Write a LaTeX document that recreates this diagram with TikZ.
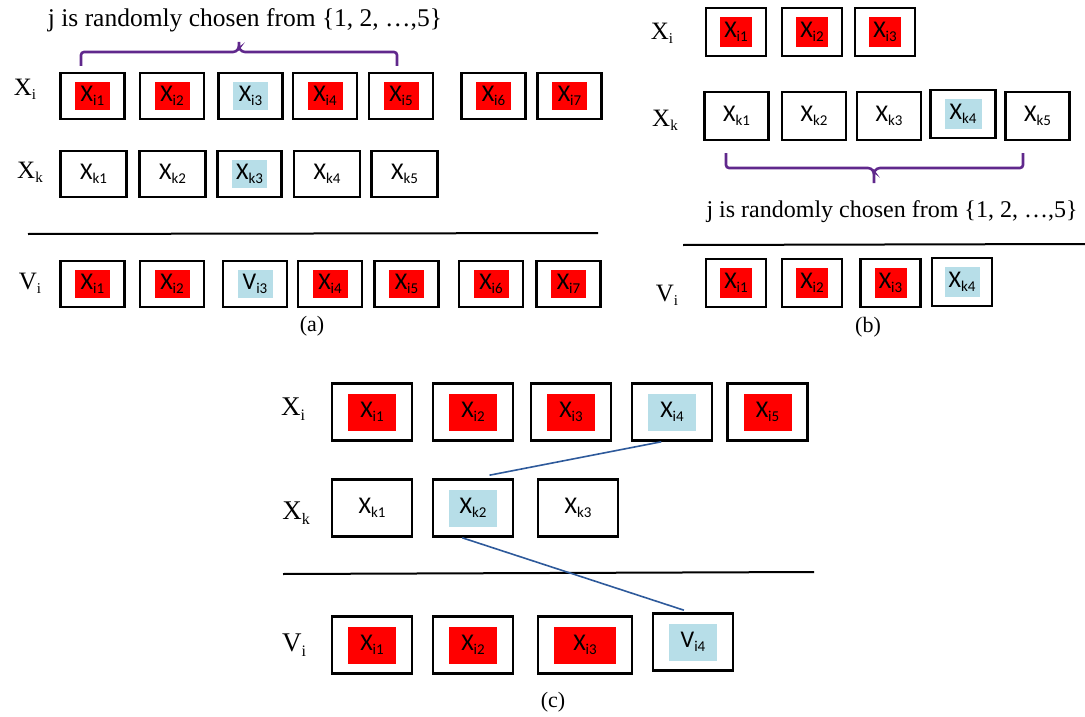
\documentclass[tikz,border=0pt]{standalone}
\usepackage{fontspec}
\setmainfont{Liberation Serif}
\newfontfamily\calfont{Carlito}
\usetikzlibrary{calc}
\definecolor{cred}{RGB}{255,0,0}
\definecolor{cblue}{RGB}{183,222,232}
\definecolor{cpurple}{RGB}{96,40,140}
\definecolor{cline}{RGB}{46,90,155}
\newcommand\sx[2]{{\calfont\fontsize{24}{26}\selectfont #1\raisebox{-0.3ex}{\fontsize{15}{15}\selectfont #2}}}
\newcommand\lab[2]{{\fontsize{25}{28}\selectfont #1\raisebox{-0.35ex}{\fontsize{15}{15}\selectfont #2}}}
\newcommand\labc[2]{{\fontsize{27}{30}\selectfont #1\raisebox{-0.35ex}{\fontsize{16}{16}\selectfont #2}}}
\tikzset{
  box/.style={draw, line width=2.6pt, inner sep=0pt},
  boxa/.style={box, minimum width=64pt, minimum height=46pt},
  boxb/.style={box, minimum width=60pt, minimum height=48pt},
  boxc/.style={box, minimum width=80pt, minimum height=57pt},
  ina/.style={inner sep=0pt, minimum width=35pt, minimum height=28pt},
  inb/.style={inner sep=0pt, minimum width=32pt, minimum height=30pt},
  inc/.style={inner sep=0pt, minimum width=48pt, minimum height=37pt},
  rowlab/.style={inner sep=0pt},
  subcap/.style={inner sep=0pt, font=\fontsize{22}{26}\selectfont},
  titletext/.style={inner sep=0pt, font=\fontsize{24}{28}\selectfont},
  bracepath/.style={draw=cpurple, line width=2.6pt, rounded corners=3pt},
  ruleline/.style={draw=black, line width=2pt},
  linkline/.style={draw=cline, line width=1.6pt}
}
\begin{document}
\begin{tikzpicture}[x=1pt, y=-1pt]
\useasboundingbox (0,0) rectangle (1085,717);

% ---------------- panel (a) ----------------
\node[titletext, font=\fontsize{25.5}{28}\selectfont] (ta) at (245,20) {j is randomly chosen from \{1, 2, …,5\}};
\draw[bracepath] (81,66) -- (81,52) -- (236,52) -- (239,48) -- (239,42);
\draw[bracepath] (239,48) -- (242,52) -- (397,52) -- (397,66);

\node[rowlab] (aXi) at (25,89) {\lab{X}{i}};
\node[rowlab] (aXk) at (30,172) {\lab{X}{k}};
\node[rowlab] (aVi) at (30,283) {\lab{V}{i}};

\foreach \n/\x/\c in {1/92.5/cred, 2/172/cred, 3/250.5/cblue, 4/325/cred, 5/401/cred, 6/493.5/cred, 7/569.5/cred}{
  \node[boxa] (axi\n) at (\x,96) {};
  \node[ina, fill=\c] (axin\n) at (axi\n) {\sx{X}{i\n}};
}
\foreach \n/\x in {1/93.5, 2/172.5, 4/327, 5/404.5}{
  \node[boxa, minimum width=66pt] (axk\n) at (\x,174) {\sx{X}{k\n}};
}
\node[boxa] (axk3) at (249.5,174) {};
\node[ina, fill=cblue] (axkn3) at (axk3) {\sx{X}{k3}};

\coordinate (ala) at (28,234);
\coordinate (alb) at (598,233);
\draw[ruleline] (ala) -- (alb);

\foreach \n/\x in {1/92.5, 2/172, 4/330, 5/406.5, 6/491, 7/568.5}{
  \node[boxa] (avi\n) at (\x,284) {};
  \node[ina, fill=cred] (avin\n) at (avi\n) {\sx{X}{i\n}};
}
\node[boxa] (avi3) at (255,284) {};
\node[ina, fill=cblue] (avin3) at (avi3) {\sx{V}{i3}};
\node[subcap] (capa) at (312,326) {(a)};

% ---------------- panel (b) ----------------
\node[rowlab] (bXi) at (662,33) {\lab{X}{i}};
\node[rowlab] (bXk) at (665,120) {\lab{X}{k}};
\node[rowlab] (bVi) at (667,295) {\lab{V}{i}};

\foreach \n/\x in {1/736, 2/812, 3/885}{
  \node[boxb] (bxi\n) at (\x,32) {};
  \node[inb, fill=cred] (bxin\n) at (bxi\n) {\sx{X}{i\n}};
}
\foreach \n/\x in {1/736.5, 2/814, 3/889, 5/1037.5}{
  \node[boxb, minimum width=64pt] (bxk\n) at (\x,116) {\sx{X}{k\n}};
}
\node[boxb, minimum width=65pt] (bxk4) at (963,114) {};
\node[inb, minimum width=37pt, fill=cblue] (bxkn4) at (bxk4) {\sx{X}{k4}};

\draw[bracepath] (726,153) -- (726,168) -- (871,168) -- (874,172) -- (874,183);
\draw[bracepath] (874,172) -- (877,168) -- (1023,168) -- (1023,153);
\node[titletext] (tb) at (892,212) {j is randomly chosen from \{1, 2, …,5\}};

\coordinate (bla) at (683,245);
\coordinate (blb) at (1085,244);
\draw[ruleline] (bla) -- (blb);

\foreach \n/\x in {1/736, 2/812, 3/890.5}{
  \node[boxb] (bvi\n) at (\x,283) {};
  \node[inb, fill=cred] (bvin\n) at (bvi\n) {\sx{X}{i\n}};
}
\node[boxb] (bvi4) at (962,282) {};
\node[inb, minimum width=35pt, fill=cblue] (bvin4) at (bvi4) {\sx{X}{k4}};
\node[subcap] (capb) at (868,327) {(b)};

% ---------------- panel (c) ----------------
\node[rowlab] (cXi) at (293,409) {\labc{X}{i}};
\node[rowlab] (cXk) at (296,513) {\labc{X}{k}};
\node[rowlab] (cVi) at (294,645) {\labc{V}{i}};

\foreach \n/\x/\c in {1/372/cred, 2/473/cred, 3/571/cred, 4/672/cblue, 5/767.5/cred}{
  \node[boxc] (cxi\n) at (\x,412) {};
  \node[inc, fill=\c] (cxin\n) at (cxi\n) {\sx{X}{i\n}};
}
\node[boxc] (cxk1) at (372,508) {\sx{X}{k1}};
\node[boxc] (cxk2) at (473,508) {};
\node[inc, fill=cblue] (cxkn2) at (cxk2) {\sx{X}{k2}};
\node[boxc] (cxk3) at (578,508) {\sx{X}{k3}};

\coordinate (cla) at (283,574);
\coordinate (clb) at (814,572);
\draw[ruleline] (cla) -- (clb);

\node[boxc] (cvi1) at (372,645) {};
\node[inc, fill=cred] (cvin1) at (cvi1) {\sx{X}{i1}};
\node[boxc] (cvi2) at (473,645) {};
\node[inc, fill=cred] (cvin2) at (cvi2) {\sx{X}{i2}};
\node[boxc, minimum width=94pt] (cvi3) at (585,645) {};
\node[inc, minimum width=62pt, fill=cred] (cvin3) at (cvi3) {\sx{X}{i3}};
\node[boxc] (cvi4) at (693,642) {};
\node[inc, fill=cblue] (cvin4) at (cvi4) {\sx{V}{i4}};
\node[subcap] (capc) at (553,702) {(c)};

\coordinate (l1a) at ($(cxi4.south west)!0.37!(cxi4.south east)$);
\coordinate (l1b) at ($(cxk2.north west)!0.70!(cxk2.north east)+(0,-3)$);
\draw[linkline] (l1a) -- (l1b);
\coordinate (l2a) at ($(cxk2.south west)!0.37!(cxk2.south east)$);
\coordinate (l2b) at ($(cvi4.north west)!0.39!(cvi4.north east)+(0,-2)$);
\draw[linkline] (l2a) -- (l2b);
\end{tikzpicture}
\end{document}
